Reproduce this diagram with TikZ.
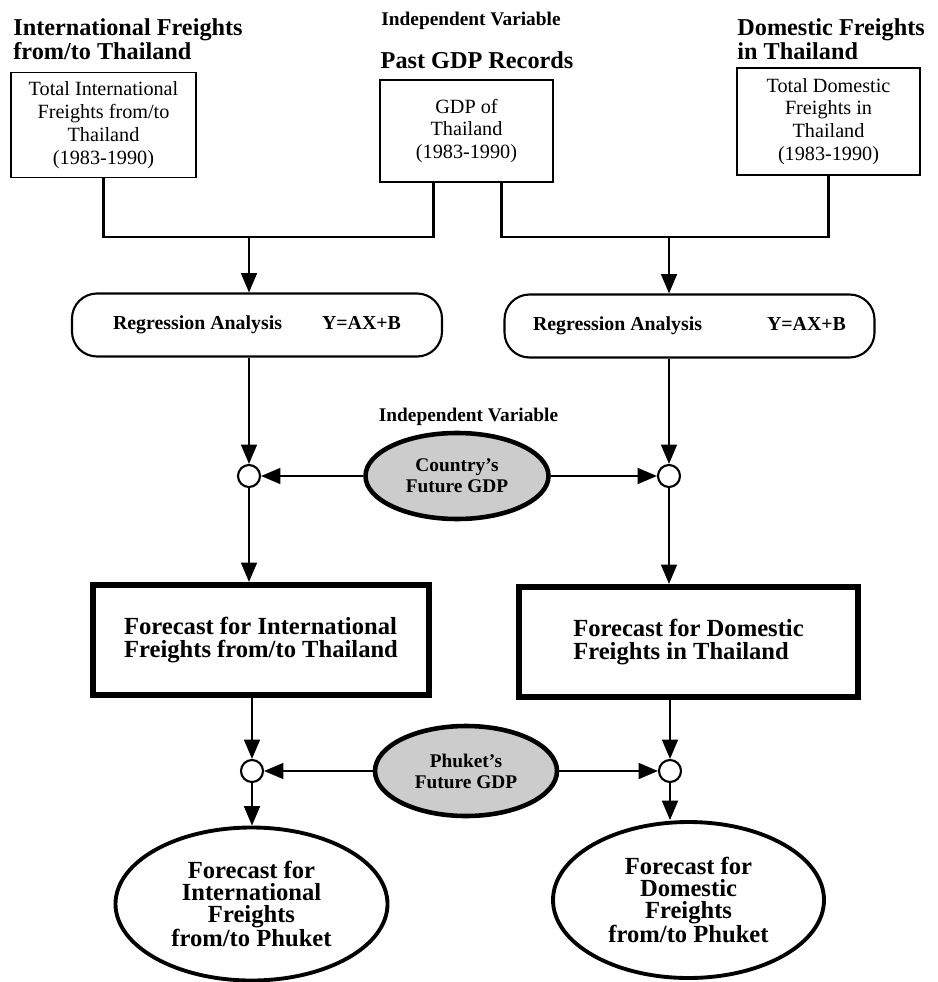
\documentclass[tikz,border=0pt]{standalone}
\usepackage{fontspec}
\setmainfont{Liberation Serif}
\usetikzlibrary{arrows.meta,positioning,shapes.geometric}

\begin{document}
\begin{tikzpicture}[
  >={Triangle[length=11pt,width=9pt]},
  every node/.style={font=\fontsize{11.5}{13}\selectfont},
  head/.style={font=\fontsize{13.8}{11.5}\selectfont\bfseries, align=left, inner sep=0pt},
  note/.style={font=\fontsize{11}{13}\selectfont\bfseries, inner sep=0pt},
  data/.style={rectangle, draw, line width=1pt, minimum width=3.7cm, minimum height=2.1cm, align=center, inner sep=2pt},
  regbox/.style={rectangle, rounded corners=0.5cm, draw, line width=1.2pt, minimum width=7.4cm, minimum height=1.26cm, font=\fontsize{11.3}{13}\selectfont\bfseries},
  junc/.style={circle, draw, line width=1.2pt, fill=white, minimum size=0.44cm, inner sep=0pt},
  gdp/.style={ellipse, draw, line width=2.6pt, fill=gray!40, minimum width=3.66cm, minimum height=1.72cm, align=center, inner sep=0pt, font=\fontsize{11}{12}\selectfont\bfseries},
  fcast/.style={rectangle, draw, line width=3.5pt, minimum width=6.72cm, minimum height=2.2cm, align=left, font=\fontsize{14}{13.5}\selectfont\bfseries},
  result/.style={ellipse, draw, line width=2.2pt, minimum width=5.44cm, minimum height=3.06cm, align=center, inner sep=0pt, font=\fontsize{14}{12.5}\selectfont\bfseries},
  link/.style={line width=1.2pt}
]
  \useasboundingbox (0,0) rectangle (18.74,-19.64);

  % headings
  \node[head, anchor=west] (headL) at (0.26,-0.78) {International Freights\\from/to Thailand};
  \node[head, anchor=west] (headR) at (14.74,-0.78) {Domestic Freights\\in Thailand};
  \node[note] (indepTop) at (9.42,-0.42) {Independent Variable};
  \node[head] (pastGDP) at (9.54,-1.2) {Past GDP Records};

  % source data
  \node[data] (intl) at (2.07,-2.5) {Total International\\Freights from/to\\Thailand\\(1983-1990)};
  \node[data, minimum width=3.46cm, minimum height=2.04cm] (gdpTH) at (9.33,-2.62) {GDP of\\Thailand\\(1983-1990)};
  \node[data, minimum width=3.66cm, minimum height=2.14cm] (dom) at (16.57,-2.43) {Total Domestic\\Freights in\\Thailand\\(1983-1990)};

  \coordinate (jL) at (4.98,-4.74);
  \coordinate (jR) at (13.38,-4.74);

  % regression
  \node[regbox] (regL) at (5.14,-6.5) {Regression Analysis\hspace{0.8cm}Y=AX+B};
  \node[regbox] (regR) at (13.79,-6.52) {Regression Analysis\hspace{1.3cm}Y=AX+B};

  \draw[link] (intl.south) |- (jL) -| ([xshift=-0.66cm]gdpTH.south);
  \draw[link] ([xshift=0.7cm]gdpTH.south) |- (jR) -| (dom.south);
  \draw[link, ->] (jL) -- (jL |- regL.north);
  \draw[link, ->] (jR) -- (jR |- regR.north);

  % country GDP
  \node[note] (indepMid) at (9.37,-8.34) {Independent Variable};
  \node[gdp] (country) at (9.14,-9.52) {Country's\\Future GDP};
  \node[junc] (cL) at (4.98,-9.52) {};
  \node[junc] (cR) at (13.38,-9.52) {};

  \draw[link, ->] (regL.south -| cL) -- (cL.north);
  \draw[link, ->] (regR.south -| cR) -- (cR.north);
  \draw[link, ->] (country.west) -- (cL.east);
  \draw[link, ->] (country.east) -- (cR.west);

  % forecasts for Thailand
  \node[fcast] (fcL) at (5.22,-12.8) {Forecast for International\\Freights from/to Thailand};
  \node[fcast, minimum width=6.78cm] (fcR) at (13.77,-12.84) {Forecast for Domestic\\Freights in Thailand};

  \draw[link, ->] (cL.south) -- (cL |- fcL.north);
  \draw[link, ->] (cR.south) -- (cR |- fcR.north);

  % Phuket GDP
  \node[gdp, minimum width=3.64cm, minimum height=1.8cm] (phuket) at (9.32,-15.42) {Phuket's\\Future GDP};
  \node[junc] (pL) at (5.04,-15.42) {};
  \node[junc] (pR) at (13.4,-15.42) {};

  \draw[link, ->] (fcL.south -| pL) -- (pL.north);
  \draw[link, ->] (fcR.south -| pR) -- (pR.north);
  \draw[link, ->] (phuket.west) -- (pL.east);
  \draw[link, ->] (phuket.east) -- (pR.west);

  % forecasts for Phuket
  \node[result] (resL) at (5.03,-18.08) {Forecast for\\International\\Freights\\from/to Phuket};
  \node[result, minimum width=5.42cm, minimum height=3.12cm] (resR) at (13.77,-18.0) {Forecast for\\Domestic\\Freights\\from/to Phuket};

  \draw[link, ->] (pL.south) -- (pL |- resL.north);
  \draw[link, ->] (pR.south) -- (pR |- resR.north);
\end{tikzpicture}
\end{document}
